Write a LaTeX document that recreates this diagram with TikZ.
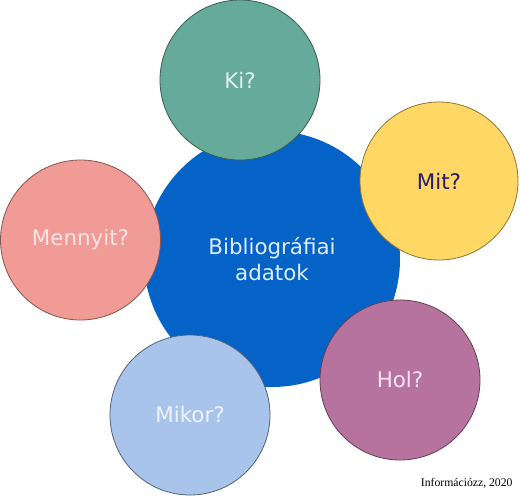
\documentclass[tikz,border=0pt]{standalone}
\usepackage{fontspec}
\setmainfont{DejaVu Sans}
\newfontfamily\creditfont{Liberation Serif}
\definecolor{cmain}{RGB}{5,99,200}
\definecolor{cki}{RGB}{102,170,153}
\definecolor{cmit}{RGB}{255,215,100}
\definecolor{cmenny}{RGB}{240,155,150}
\definecolor{cmikor}{RGB}{169,196,235}
\definecolor{chol}{RGB}{181,115,157}
\definecolor{tmain}{RGB}{222,238,255}
\definecolor{tki}{RGB}{224,242,240}
\definecolor{tmit}{RGB}{42,26,110}
\definecolor{tmenny}{RGB}{250,228,228}
\definecolor{tmikor}{RGB}{238,244,255}
\definecolor{thol}{RGB}{248,226,246}
\tikzset{
  bubble/.style={circle, inner sep=0pt, minimum size=160pt, line width=0.8pt,
    font=\fontsize{21.4}{26}\selectfont, align=center},
}
\begin{document}
\begin{tikzpicture}[x=1pt,y=-1pt]
\useasboundingbox (0,0) rectangle (521,496);
\node[bubble, fill=cmain, minimum size=256pt, text=tmain] (main) at (272,259) {Bibliográfiai\\adatok};
\node[bubble, fill=cki, draw=cki!55!black, text=tki] (ki) at (240,80) {Ki?};
\node[bubble, fill=cmit, draw=cmit!55!black, minimum size=158pt, text=tmit] (mit) at (439,181) {Mit?};
\node[bubble, fill=cmenny, draw=cmenny!55!black, text=tmenny] (menny) at (80.5,240) {Mennyit?};
\node[bubble, fill=cmikor, draw=cmikor!50!black, text=tmikor] (mikor) at (190,415) {Mikor?};
\node[bubble, fill=chol, draw=chol!55!black, text=thol] (hol) at (400,380) {Hol?};
\node[anchor=base west, inner sep=0pt, font=\creditfont\fontsize{11.7}{14}\selectfont] (credit) at (420.7,486.7) {Információzz, 2020};
\end{tikzpicture}
\end{document}
